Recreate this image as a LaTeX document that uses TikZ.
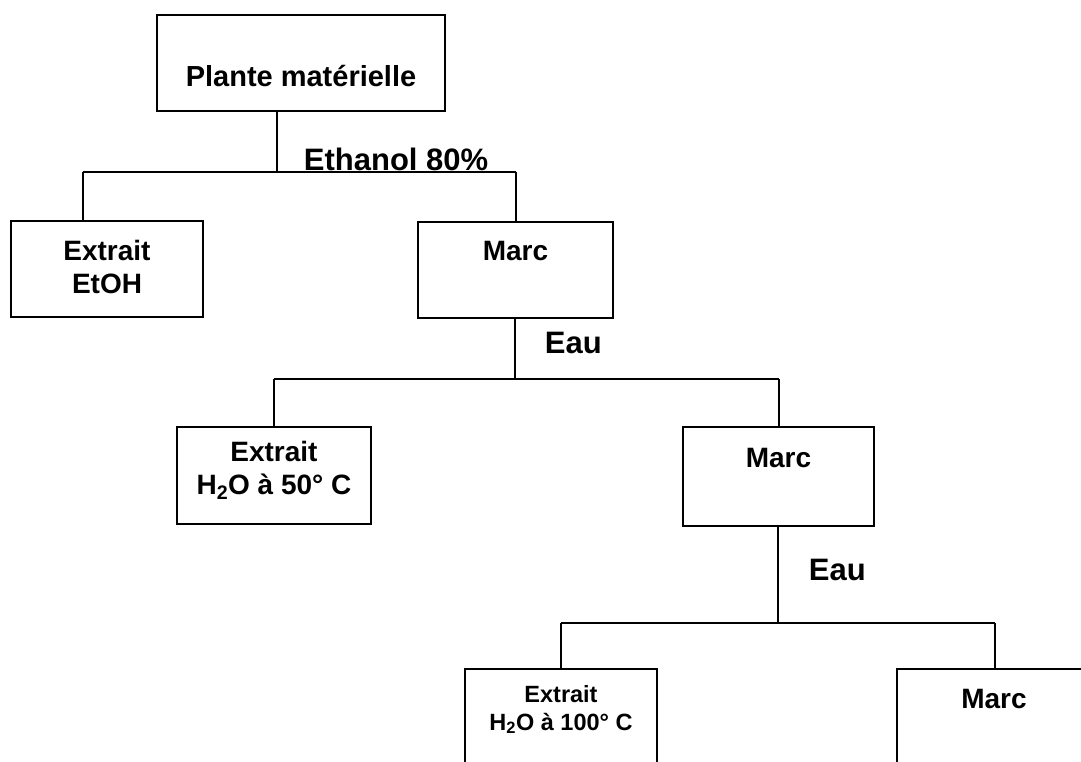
\documentclass[tikz,border=0pt]{standalone}
\usepackage{fontspec}
\setmainfont{Liberation Sans}

\tikzset{%
  every node/.style={
    inner sep=1pt
  },
  boite/.style={draw, rectangle, inner sep=0pt},
  txt/.style={font=\bfseries\fontsize{28}{33}\selectfont, align=center},
  petit/.style={font=\bfseries\fontsize{23.5}{28}\selectfont, align=center},
  etiq/.style={font=\bfseries\fontsize{31}{36}\selectfont, anchor=base west}
}

\begin{document}
\begin{tikzpicture}[x=1pt, y=-1pt, line width=1.8pt]
        \useasboundingbox (0,0) rectangle (1081,761);
        \clip (0,0) rectangle (1081,761);
        % niveau 1
        \node[boite, minimum width=288pt, minimum height=96pt] at (301,63) (plante) {};
        \node[txt, font=\bfseries\fontsize{29}{33}\selectfont, anchor=base] at (301,86) (plantet) {Plante matérielle};
        \coordinate (n1) at (277,172);
        \coordinate (n1g) at (83,172);
        \coordinate (n1d) at (516,172);
        \node[etiq] at (302,170) (ethanol) {Ethanol 80\%};
        \draw (plante.south -| n1) -- (n1);
        \draw (n1g) -- (n1d);
        % niveau 2
        \node[boite, minimum width=192pt, minimum height=96pt] at (107,269) (ext1) {};
        \node[txt, anchor=base] at (107,293) (ext1t) {Extrait\\EtOH};
        \node[boite, minimum width=195pt, minimum height=96pt] at (515.5,270) (marc1) {};
        \node[txt, anchor=base] at (515.5,260) (marc1t) {Marc};
        \draw (n1g) -- (n1g |- ext1.north);
        \draw (n1d) -- (n1d |- marc1.north);
        \coordinate (n2) at (515,379);
        \coordinate (n2g) at (274,379);
        \coordinate (n2d) at (779,379);
        \node[etiq] at (543,353) (eau1) {Eau};
        \draw (marc1.south -| n2) -- (n2);
        \draw (n2g) -- (n2d);
        % niveau 3
        \node[boite, minimum width=194pt, minimum height=97pt] at (274,475.5) (ext2) {};
        \node[txt, anchor=base] at (274,494) (ext2t) {Extrait\\H\textsubscript{2}O à 50° C};
        \node[boite, minimum width=191pt, minimum height=99pt] at (778.5,476.5) (marc2) {};
        \node[txt, anchor=base] at (778.5,467) (marc2t) {Marc};
        \draw (n2g) -- (n2g |- ext2.north);
        \draw (n2d) -- (n2d |- marc2.north);
        \coordinate (n3) at (778,623);
        \coordinate (n3g) at (561,623);
        \coordinate (n3d) at (995,623);
        \node[etiq] at (807,580) (eau2) {Eau};
        \draw (marc2.south -| n3) -- (n3);
        \draw (n3g) -- (n3d);
        % niveau 4 (coupe en bas)
        \node[boite, minimum width=192pt, minimum height=140pt] at (561,739) (ext3) {};
        \node[petit, anchor=base] at (561,730) (ext3t) {Extrait\\H\textsubscript{2}O à 100° C};
        \node[boite, minimum width=260pt, minimum height=140pt] at (1027,739) (marc3) {};
        \node[txt, anchor=base] at (994,708) (marc3t) {Marc};
        \draw (n3g) -- (n3g |- ext3.north);
        \draw (n3d) -- (n3d |- marc3.north);
      \end{tikzpicture}
\end{document}
